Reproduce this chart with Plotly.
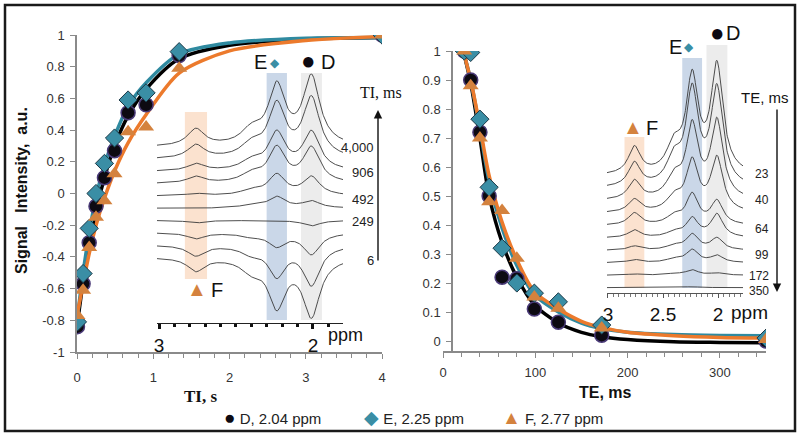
import numpy as np
import plotly.graph_objects as go

W, H = 800, 438
def px(x): return x / W
def py(y): return 1 - y / H

# ---------------- data: left panel (inversion recovery) ----------------
ti_s = [0.006, 0.08, 0.16, 0.249, 0.36, 0.492, 0.67, 0.906, 1.34, 4.0]
ti_D = [-0.84, -0.57, -0.31, -0.08, 0.10, 0.27, 0.51, 0.56, 0.87, 1.0]
ti_E = [-0.81, -0.505, -0.22, 0.0, 0.19, 0.35, 0.59, 0.635, 0.895, 1.0]
ti_F = [-0.77, -0.61, -0.34, -0.15, -0.045, 0.125, 0.39, 0.42, 0.79, 1.0]

fit_ti = [0, 0.08, 0.16, 0.25, 0.36, 0.5, 0.67, 0.91, 1.34, 2.0, 3.0, 4.0]
fit_ti_D = [-0.84, -0.56, -0.33, -0.11, 0.10, 0.31, 0.49, 0.66, 0.85, 0.935, 0.975, 0.985]
fit_ti_E = [-0.80, -0.50, -0.25, -0.02, 0.18, 0.37, 0.55, 0.70, 0.88, 0.95, 0.98, 0.985]
fit_ti_F = [-0.77, -0.57, -0.38, -0.20, -0.03, 0.15, 0.32, 0.50, 0.76, 0.90, 0.965, 0.99]

ti_labels = ["6", "249", "492", "906", "4,000"]

# ---------------- data: right panel (T2 decay) ----------------
te_ms = [23, 30, 40, 50, 64, 80, 99, 125, 172, 350]
te_D = [1.0, 0.90, 0.72, 0.50, 0.22, 0.215, 0.11, 0.065, 0.02, 0.0]
te_E = [1.0, 0.995, 0.765, 0.53, 0.32, 0.20, 0.165, 0.135, 0.055, 0.01]
te_F = [1.0, 0.88, 0.70, 0.48, 0.45, 0.285, 0.152, 0.113, 0.045, 0.005]

fit_te = [22, 30, 40, 50, 64, 80, 99, 125, 150, 172, 200, 250, 300, 350]
fit_te_D = [1.0, 0.89, 0.70, 0.50, 0.34, 0.22, 0.125, 0.062, 0.03, 0.015, 0.005, -0.003, -0.005, -0.006]
fit_te_E = [1.0, 0.90, 0.73, 0.55, 0.39, 0.26, 0.16, 0.10, 0.062, 0.043, 0.03, 0.022, 0.019, 0.018]
fit_te_F = [1.0, 0.90, 0.74, 0.57, 0.41, 0.28, 0.17, 0.11, 0.068, 0.047, 0.03, 0.018, 0.012, 0.01]

te_labels = ["23", "40", "64", "99", "172", "350"]

# spectral peaks (ppm) and their heights in the inset spectra
peak_ppm = {"F": 2.76, "S": 2.40, "E": 2.235, "D": 2.01}
peak_hw = {"F": 0.066, "S": 0.08, "E": 0.066, "D": 0.066}
left_peak_h = {"F": 17, "S": 14, "E": 58, "D": 68}
right_peak_h = {"F": 27, "S": 26, "E": 93, "D": 107}

legend_items = [("D, 2.04 ppm", "●"), ("E, 2.25 ppm", "◆"), ("F, 2.77 ppm", "▲")]

# ---------------- styles ----------------
C_D, C_D_EDGE = "#0d0a12", "#4a3a78"
C_E, C_E_EDGE = "#3a8ea5", "#1c3a48"
C_F = "#d4823e"
L_D, L_E, L_F = "#000000", "#2f8aa0", "#ec7a2c"
AX = "#8a8a8a"
TXT = "#333333"

fig = go.Figure()

def add_panel(xa, ya, xfit, fits, xs, pts):
    for yv, col in zip(fits, [L_D, L_E, L_F]):
        fig.add_trace(go.Scatter(x=xfit, y=yv, mode="lines", xaxis=xa, yaxis=ya,
                                 line=dict(color=col, width=3.5, shape="spline", smoothing=0.8),
                                 showlegend=False, hoverinfo="skip"))
    styles = [dict(symbol="circle", size=14, color=C_D, line=dict(color=C_D_EDGE, width=1.5)),
              dict(symbol="diamond", size=14, color=C_E, line=dict(color=C_E_EDGE, width=1)),
              dict(symbol="triangle-up", size=14, color=C_F, line=dict(width=0))]
    for yv, st in zip(pts, styles):
        fig.add_trace(go.Scatter(x=xs, y=yv, mode="markers", xaxis=xa, yaxis=ya,
                                 marker=st, showlegend=False))

add_panel("x", "y", fit_ti, [fit_ti_D, fit_ti_E, fit_ti_F], ti_s, [ti_D, ti_E, ti_F])
add_panel("x2", "y2", fit_te, [fit_te_D, fit_te_E, fit_te_F], te_ms, [te_D, te_E, te_F])

def lor(x, c, g):
    return 1.0 / (1.0 + ((x - c) / g) ** 2)

# left inset spectra (bottom trace = shortest TI)
ppm_l = np.linspace(3.013, 1.805, 400)
for i in range(len(ti_s)):
    base = 66 + 12.2 * i
    amp = {"F": ti_F[i], "S": ti_E[i], "E": ti_E[i], "D": ti_D[i]}
    y = base + sum(left_peak_h[k] * amp[k] * lor(ppm_l, peak_ppm[k], peak_hw[k]) for k in peak_ppm)
    fig.add_trace(go.Scatter(x=ppm_l, y=y, mode="lines", xaxis="x3", yaxis="y3",
                             line=dict(color="#3a3a3a", width=0.9), showlegend=False, hoverinfo="skip"))

# right inset spectra (top trace = shortest TE)
ppm_r = np.linspace(3.009, 1.773, 400)
for i in range(len(te_ms)):
    base = 117 - 12.4 * i
    amp = {"F": te_F[i], "S": te_E[i], "E": te_E[i], "D": te_D[i]}
    y = base + sum(right_peak_h[k] * amp[k] * lor(ppm_r, peak_ppm[k], peak_hw[k]) for k in peak_ppm)
    fig.add_trace(go.Scatter(x=ppm_r, y=y, mode="lines", xaxis="x4", yaxis="y4",
                             line=dict(color="#3a3a3a", width=0.9), showlegend=False, hoverinfo="skip"))

shapes = []
# bands: left inset
for k, half, y0, y1, col in [("F", 0.072, 44, 211, "#fbe2cf"), ("E", 0.066, 3, 250, "#cad7e8"),
                              ("D", 0.068, 3, 250, "#ececec")]:
    shapes.append(dict(type="rect", xref="x3", yref="y3", x0=peak_ppm[k] + half, x1=peak_ppm[k] - half,
                       y0=y0, y1=y1, fillcolor=col, line=dict(width=0), layer="below"))
for k, half, y0, y1, col in [("F", 0.09, 5, 156, "#fbe2cf"), ("E", 0.09, 5, 235, "#cad7e8"),
                              ("D", 0.095, 5, 248, "#ececec")]:
    shapes.append(dict(type="rect", xref="x4", yref="y4", x0=peak_ppm[k] + half, x1=peak_ppm[k] - half,
                       y0=y0, y1=y1, fillcolor=col, line=dict(width=0), layer="below"))
# outer frame
shapes.append(dict(type="rect", xref="paper", yref="paper", x0=px(5), x1=px(795), y0=py(431), y1=py(5),
                   line=dict(color="#1a1a1a", width=2.5)))

ann = []
def txt(x, y, s, size=13, color=TXT, family="Arial", xanchor="center", **kw):
    ann.append(dict(x=px(x), y=py(y), xref="paper", yref="paper", text=s, showarrow=False,
                    xanchor=xanchor, yanchor="middle", font=dict(size=size, color=color, family=family), **kw))

# axis titles
txt(21, 191, "<b>Signal\u00a0\u00a0 Intensity,\u00a0 a.u.</b>", size=16, color="#111", textangle=-90)
txt(200, 396, "<b>TI, s</b>", size=17, color="#111", family="Liberation Serif, Times New Roman, serif")
txt(605, 392, "<b>TE, ms</b>", size=16, color="#111")

# left inset labels
txt(260, 62, "E", size=20, color="#111")
txt(275, 63, "◆", size=12, color=C_E)
txt(308, 61, "●", size=24, color=C_D)
txt(328, 62, "D", size=20, color="#111")
txt(197, 289, "▲", size=20, color=C_F)
txt(217, 290, "F", size=20, color="#111")
txt(381, 93, "TI, ms", size=16, color="#111", family="Liberation Serif, Times New Roman, serif")
for lab, yy in zip(ti_labels, [260, 221, 199, 173, 147]):
    txt(376, yy, lab, size=13, color="#222", xanchor="right")
txt(326, 335, "ppm", size=18, color="#111", xanchor="left")
ann.append(dict(x=px(378), y=py(110), xref="paper", yref="paper", ax=0, ay=152, axref="pixel", ayref="pixel",
                text="", showarrow=True, arrowhead=2, arrowsize=1.2, arrowwidth=1.4, arrowcolor="#111"))

# right inset labels
txt(633, 127, "▲", size=20, color=C_F)
txt(652, 128, "F", size=20, color="#111")
txt(675, 47, "E", size=20, color="#111")
txt(689, 47, "◆", size=12, color=C_E)
txt(717, 33, "●", size=24, color=C_D)
txt(733, 33, "D", size=20, color="#111")
txt(765, 98, "TE, ms", size=15, color="#111")
for lab, yy in zip(te_labels, [174, 200, 229, 255, 275.5, 291]):
    txt(771, yy, lab, size=12, color="#222", xanchor="right")
txt(729, 312, "ppm", size=19, color="#111", xanchor="left")
ann.append(dict(x=px(777), y=py(292), xref="paper", yref="paper", ax=0, ay=-184, axref="pixel", ayref="pixel",
                text="", showarrow=True, arrowhead=2, arrowsize=1.2, arrowwidth=1.4, arrowcolor="#111"))

# legend (manual, bottom)
sym_col = [C_D, C_E, C_F]
for (lab, sym), col, x0 in zip(legend_items, sym_col, [222, 362, 500]):
    txt(x0, 417, f'<span style="color:{col};font-size:19px">{sym}</span> {lab}', size=15, color="#222",
        xanchor="left")

def ticks(vals):
    vals = [round(float(v), 2) + 0.0 for v in vals]
    return vals, [f"{v:g}" for v in vals]

ytv, ytt = ticks(np.arange(-1, 1.01, 0.2))
y2v, y2t = ticks(np.arange(0, 1.01, 0.1))

axis_common = dict(showgrid=False, zeroline=False, showline=True, linecolor=AX, linewidth=1.5,
                   ticks="outside", tickcolor=AX, ticklen=5, tickwidth=1.2, automargin=False,
                   tickfont=dict(size=13, color=TXT, family="Arial"))

fig.update_layout(
    width=W, height=H, margin=dict(l=0, r=0, t=0, b=0, pad=0, autoexpand=False),
    paper_bgcolor="white", plot_bgcolor="rgba(0,0,0,0)", showlegend=False,
    modebar=dict(bgcolor="rgba(0,0,0,0)", color="rgba(0,0,0,0)", activecolor="rgba(0,0,0,0)"),
    xaxis=dict(domain=[px(77), px(382)], range=[0, 4], anchor="y", tickvals=[0, 1, 2, 3, 4],
               minor=dict(dtick=0.2, ticks="outside", ticklen=4, tickcolor=AX), ticklabelstandoff=8,
               **axis_common),
    yaxis=dict(domain=[py(352), py(35)], range=[-1, 1], anchor="x", tickvals=ytv, ticktext=ytt,
               ticklabelstandoff=3, **axis_common),
    xaxis2=dict(domain=[px(443), px(766)], range=[0, 350], anchor="y2", tickvals=[0, 100, 200, 300],
                minor=dict(dtick=20, ticks="outside", ticklen=4, tickcolor=AX), ticklabelstandoff=4,
                **axis_common),
    yaxis2=dict(domain=[py(351), py(51)], range=[-0.0345, 1.0], anchor="free", position=px(452),
                tickvals=y2v, ticktext=y2t, ticklabelstandoff=3, **axis_common),
    xaxis3=dict(domain=[px(157), px(343)], range=[3.013, 1.805], anchor="y3", showgrid=False, zeroline=False,
                showline=True, linecolor="#222", linewidth=1.2, ticks="outside", tickvals=[3, 2],
                ticktext=["3", "2"], ticklen=5, tickwidth=3, tickcolor="#111", automargin=False,
                minor=dict(dtick=0.1, tick0=0, ticks="outside", ticklen=3, tickwidth=2.5, tickcolor="#111"),
                tickfont=dict(size=19, color="#111", family="Arial")),
    yaxis3=dict(domain=[py(323), py(30)], range=[0, 293], anchor="x3", visible=False),
    xaxis4=dict(domain=[px(607), px(743)], range=[3.009, 1.773], anchor="y4", showgrid=False, zeroline=False,
                showline=True, linecolor="#555", linewidth=1, ticks="outside", tickvals=[3, 2.5, 2],
                ticktext=["3", "2.5", "2"], ticklen=4, tickwidth=1, tickcolor="#555", automargin=False,
                minor=dict(dtick=0.05, tick0=0, ticks="outside", ticklen=3, tickwidth=1, tickcolor="#777"),
                tickfont=dict(size=19, color="#111", family="Arial")),
    yaxis4=dict(domain=[py(293), py(30)], range=[0, 263], anchor="x4", visible=False),
    shapes=shapes, annotations=ann,
)

# remove the page's default 8px body margin and hide the modebar overlay
page_js = ("document.body.style.margin='0px';"
           "var s=document.createElement('style');"
           "s.innerHTML='.modebar-container{display:none !important;}';"
           "document.head.appendChild(s);")
fig.write_html("out.html", post_script=page_js)
